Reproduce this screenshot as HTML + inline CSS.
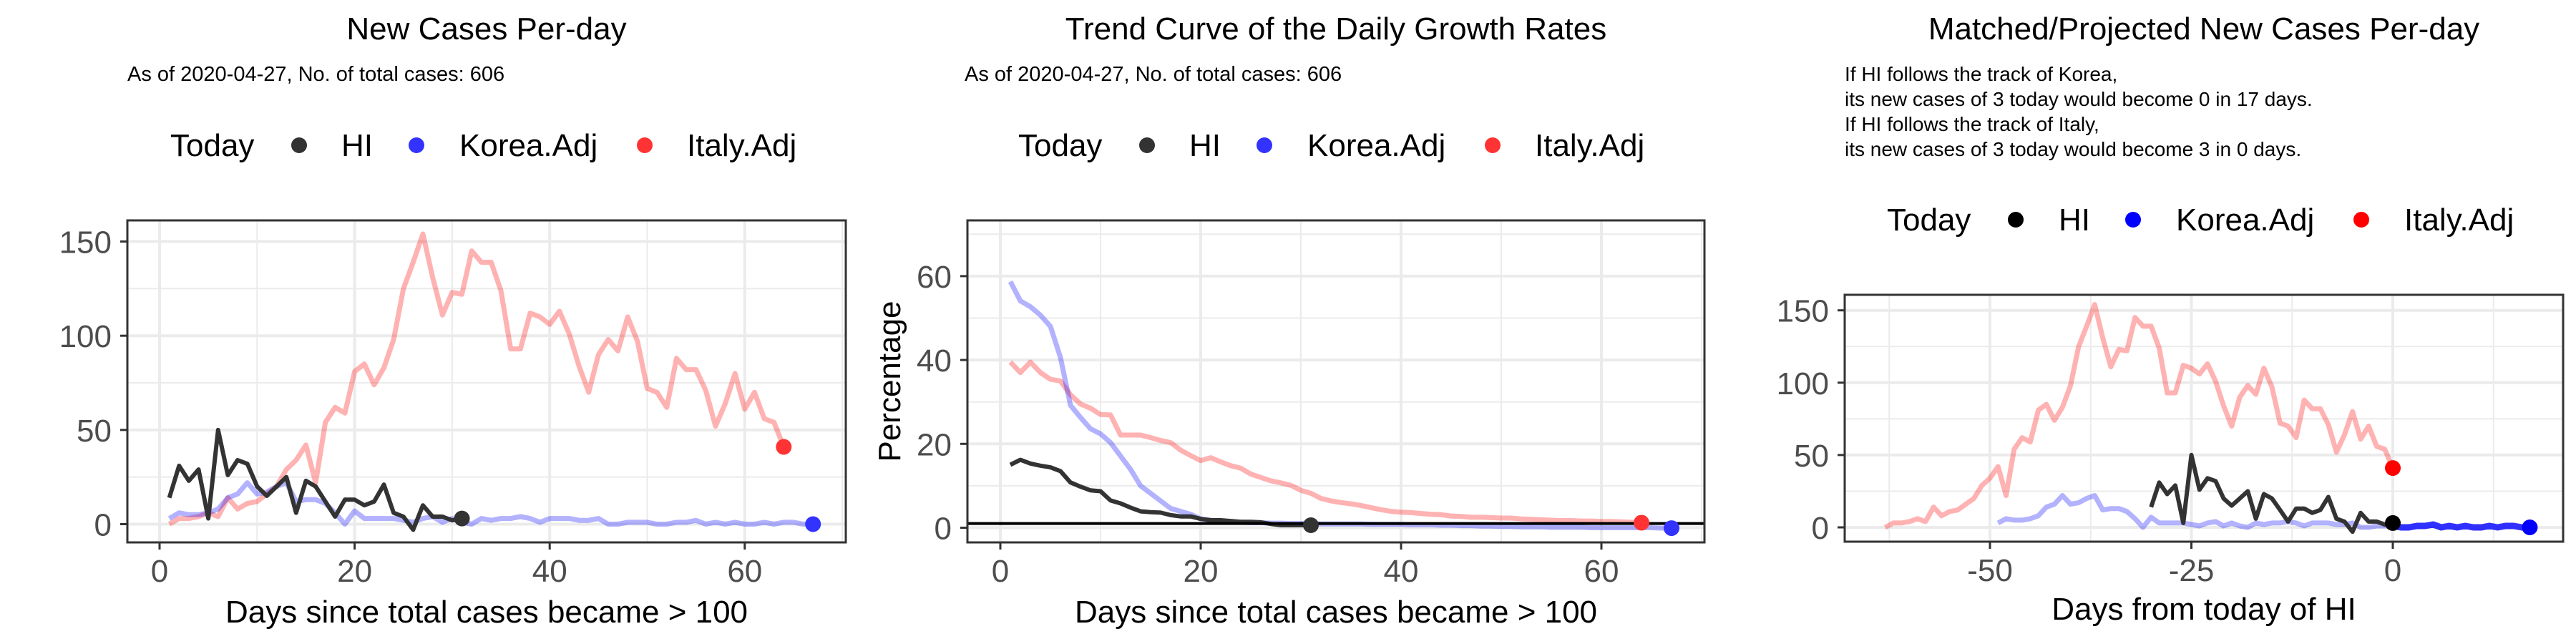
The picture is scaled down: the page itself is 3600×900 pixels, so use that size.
<!DOCTYPE html>
<html><head><meta charset="utf-8"><style>
html,body{margin:0;padding:0;background:#fff;}
svg{display:block;font-family:"Liberation Sans",Arial,sans-serif;}
</style></head><body>
<svg id="chart" width="3600" height="900" viewBox="0 0 3600 900" xmlns="http://www.w3.org/2000/svg"></svg>
<script>
// ---------- data ----------
const hiNew = [14,31,23,29,3,50,26,34,32,20,15,20,25,6,23,20,12,4,13,13,10,12,21,6,4,-3,10,4,4,2,3];
const italyNew = [0,3,3,4,6,4,14,8,11,12,16,20,29,34,42,22,54,62,59,81,85,74,83,98,125,139,154,131,111,123,122,145,139,139,124,93,93,112,110,106,113,101,84,70,90,98,92,110,97,72,70,62,88,82,82,71,52,64,80,61,70,56,54,41];
const koreaNew = [3,6,5,5,6,8,14,16,22,16,17,20,22,12,13,13,11,6,0,7,3,3,3,
 3,2,1,3,4,1,3,1,0,3,2,3,3,4,3,1,3,3,3,2,2,3,0,0,1,1,1,0,0,1,1,2,0,1,0,1,0,0,1,0,1,1,0,0];
const hiRate = [15,16.2,15.3,14.8,14.4,13.5,10.8,9.8,8.9,8.7,6.5,5.8,4.8,3.9,3.7,3.6,3.0,2.7,2.7,2.1,1.8,1.8,1.6,1.4,1.4,1.3,0.9,0.6,0.6,0.6,0.6];
const koreaRate = [58.7,54.1,52.7,50.7,48,40.6,29.2,26.3,23.6,22.4,20.3,17.1,13.9,10,8.2,6.4,4.6,3.9,3.2,2.1,1.8,1.6,1.4,
 1.3,1.2,1.2,1.1,1.1,1.0,1.0,1.0,0.9,0.9,0.9,0.9,0.9,0.8,0.8,0.8,0.8,0.7,0.7,0.7,0.6,0.6,0.5,0.5,0.4,0.4,0.3,0.3,0.2,0.2,0.2,0.1,0.1,0.1,0.1,0,0,0,0,0,0,0,-0.1,-0.1];
const italyRate = [39.5,37,39.5,37,35.4,35,31.7,29.5,28.5,27,26.9,22.1,22.1,22.1,21.5,20.8,20.3,18.5,17.2,16,16.7,15.7,14.8,14.2,12.8,12,11.2,10.7,10.1,8.9,8.2,7,6.4,6,5.7,5.3,4.8,4.3,3.9,3.7,3.6,3.4,3.2,3.1,2.8,2.7,2.5,2.5,2.4,2.3,2.3,2.1,2,1.9,1.8,1.7,1.7,1.6,1.6,1.5,1.5,1.4,1.3,1.2];
const rateRefLine = 1;
const koreaShift = 50;   // Korea day matched to HI today
const italyShift = 64;
const hiShift = 31;
const newTicksX = [0,20,40,60];
const newTicksY = [0,50,100,150];
const rateTicksY = [0,20,40,60];
const matchTicksX = [-50,-25,0];

// ---------- helpers ----------
const NS='http://www.w3.org/2000/svg';
const svg=document.getElementById('chart');
function mk(tag,attrs,parent){const e=document.createElementNS(NS,tag);for(const k in attrs)e.setAttribute(k,attrs[k]);(parent||svg).appendChild(e);return e;}
function txt(s,attrs,parent){const e=mk('text',attrs,parent);e.textContent=s;return e;}

function panel(cfg){
  const g=mk('g',{});
  
  
  const X=d=>cfg.x0+cfg.kx*d, Y=v=>cfg.y0-cfg.ky*v;
  cfg.X=X;cfg.Y=Y;
  // grid
  cfg.minorX.forEach(d=>{const l=mk('line',{x1:X(d),x2:X(d),y1:cfg.top,y2:cfg.bottom,stroke:'#ebebeb','stroke-width':2},g);});
  cfg.minorY.forEach(v=>{const l=mk('line',{x1:cfg.left,x2:cfg.right,y1:Y(v),y2:Y(v),stroke:'#ebebeb','stroke-width':2},g);});
  cfg.ticksX.forEach(d=>{const l=mk('line',{x1:X(d),x2:X(d),y1:cfg.top,y2:cfg.bottom,stroke:'#ebebeb','stroke-width':4},g);});
  cfg.ticksY.forEach(v=>{const l=mk('line',{x1:cfg.left,x2:cfg.right,y1:Y(v),y2:Y(v),stroke:'#ebebeb','stroke-width':4},g);});
  // ticks and labels
  cfg.ticksX.forEach(d=>{
    mk('line',{x1:X(d),x2:X(d),y1:cfg.bottom,y2:cfg.bottom+10,stroke:'#333','stroke-width':3},g);
    const t=txt(String(d),{x:X(d),y:cfg.bottom+55,'text-anchor':'middle','font-size':44,fill:'#4d4d4d'},g);
    
  });
  cfg.ticksY.forEach(v=>{
    mk('line',{x1:cfg.left-10,x2:cfg.left,y1:Y(v),y2:Y(v),stroke:'#333','stroke-width':3},g);
    const t=txt(String(v),{x:cfg.left-22,y:Y(v)+16,'text-anchor':'end','font-size':44,fill:'#4d4d4d'},g);
    
  });
  return g;
}
function line(g,xs,vs,cfg,color,w,name,op){
  const pts=vs.map((v,i)=>cfg.X(xs[i]).toFixed(1)+','+cfg.Y(v).toFixed(1)).join(' ');
  const p=mk('polyline',{points:pts,fill:'none',stroke:color,'stroke-width':w,'stroke-linejoin':'round','stroke-opacity':op===undefined?1:op},g);
  
  
  return p;
}
function dot(g,x,y,color,name){
  const c=mk('ellipse',{cx:x,cy:y,rx:11,ry:11,fill:color},g);
  
  
}
function border(g,cfg){
  const r=mk('rect',{x:cfg.left,y:cfg.top,width:cfg.right-cfg.left,height:cfg.bottom-cfg.top,fill:'none',stroke:'#333','stroke-width':3},g);
  
}
function legend(p,bx,by,cols){
  const g=mk('g',{});
  
  
  const t1=txt('Today',{x:bx[0],y:by,'font-size':44},g);
  const names=['HI','Korea.Adj','Italy.Adj'];
  for(let i=0;i<3;i++){
    dot(g,bx[1+2*i],by-15,cols[i],'legend-key');
    const t=txt(names[i],{x:bx[2+2*i],y:by,'font-size':44},g);
    
  }
}
const seq=(n,off)=>Array.from({length:n},(_,i)=>i+1-(off||0));

// ---------- panel 1 ----------
const c1={name:'new-cases-panel',left:178,right:1182,top:308,bottom:758,x0:223,kx:13.63,y0:732.5,ky:2.633,
  ticksX:newTicksX,ticksY:newTicksY,minorX:[10,30,50,70],minorY:[25,75,125]};
const g1=panel(c1);
line(g1,seq(italyNew.length),italyNew,c1,'#ff0000',7,'italy-line',0.3);
line(g1,seq(koreaNew.length),koreaNew,c1,'#0000ff',7,'korea-line',0.3);
line(g1,seq(hiNew.length),hiNew,c1,'#333333',6,'hi-line');
dot(g1,c1.X(hiNew.length),c1.Y(hiNew[hiNew.length-1]),'#333333','hi-today-point');
dot(g1,c1.X(koreaNew.length),c1.Y(koreaNew[koreaNew.length-1]),'#3333ff','korea-today-point');
dot(g1,c1.X(italyNew.length),c1.Y(italyNew[italyNew.length-1]),'#ff3333','italy-today-point');
border(g1,c1);
let t;
t=txt('New Cases Per-day',{x:680,y:55,'text-anchor':'middle','font-size':44});
t=txt('As of 2020-04-27, No. of total cases: 606',{x:178,y:113,'font-size':29});
t=txt('Days since total cases became > 100',{x:680,y:870,'text-anchor':'middle','font-size':44});
legend(1,[238,418,477,582,642,901,960],218,['#333333','#3333ff','#ff3333']);

// ---------- panel 2 ----------
const c2={name:'growth-rate-panel',left:1352,right:2382,top:308,bottom:758,x0:1398,kx:14.0,y0:737.5,ky:5.86,
  ticksX:newTicksX,ticksY:rateTicksY,minorX:[10,30,50,70],minorY:[10,30,50,70]};
const g2=panel(c2);
line(g2,seq(italyRate.length),italyRate,c2,'#ff0000',7,'italy-rate-line',0.3);
line(g2,seq(koreaRate.length),koreaRate,c2,'#0000ff',7,'korea-rate-line',0.3);
line(g2,seq(hiRate.length),hiRate,c2,'#333333',6,'hi-rate-line');
const ref=mk('line',{x1:c2.left,x2:c2.right,y1:c2.Y(rateRefLine),y2:c2.Y(rateRefLine),stroke:'#000','stroke-width':4},g2);

dot(g2,c2.X(hiRate.length),c2.Y(hiRate[hiRate.length-1]),'#333333','hi-today-point');
dot(g2,c2.X(koreaRate.length),c2.Y(koreaRate[koreaRate.length-1]),'#3333ff','korea-today-point');
dot(g2,c2.X(italyRate.length),c2.Y(italyRate[italyRate.length-1]),'#ff3333','italy-today-point');
border(g2,c2);
t=txt('Trend Curve of the Daily Growth Rates',{x:1867,y:55,'text-anchor':'middle','font-size':44});
t=txt('As of 2020-04-27, No. of total cases: 606',{x:1348,y:113,'font-size':29});
t=txt('Days since total cases became > 100',{x:1867,y:870,'text-anchor':'middle','font-size':44});
t=txt('Percentage',{x:0,y:0,'text-anchor':'middle','font-size':44,transform:'translate(1258,533) rotate(-90)'});
legend(2,[1423,1603,1662,1767,1827,2086,2145],218,['#333333','#3333ff','#ff3333']);

// ---------- panel 3 ----------
const c3={name:'matched-projection-panel',left:2578,right:3582,top:412,bottom:757,x0:3344,kx:11.26,y0:737,ky:2.022,
  ticksX:matchTicksX,ticksY:newTicksY,minorX:[-62.5,-37.5,-12.5,12.5],minorY:[25,75,125]};
const g3=panel(c3);
line(g3,seq(italyNew.length,italyShift),italyNew,c3,'#ff0000',7,'italy-matched-line',0.3);
const kPast=koreaNew.slice(0,koreaShift), kFut=koreaNew.slice(koreaShift-1);
line(g3,seq(kPast.length,koreaShift),kPast,c3,'#0000ff',7,'korea-matched-line',0.3);
line(g3,seq(hiNew.length,hiShift),hiNew,c3,'#333333',6,'hi-line');
line(g3,seq(kFut.length,1),kFut,c3,'#1a1aff',9,'korea-projection-line',0.9);
dot(g3,c3.X(0),c3.Y(hiNew[hiNew.length-1]),'#000000','hi-today-point');
dot(g3,c3.X(koreaNew.length-koreaShift),c3.Y(koreaNew[koreaNew.length-1]),'#0000ff','korea-projected-point');
dot(g3,c3.X(0),c3.Y(italyNew[italyNew.length-1]),'#ff0000','italy-today-point');
border(g3,c3);
t=txt('Matched/Projected New Cases Per-day',{x:3080,y:55,'text-anchor':'middle','font-size':44});
const notes=['If HI follows the track of Korea,','its new cases of 3 today would become 0 in 17 days.','If HI follows the track of Italy,','its new cases of 3 today would become 3 in 0 days.'];
notes.forEach((s,i)=>{const n=txt(s,{x:2578,y:113+35*i,'font-size':28});});
t=txt('Days from today of HI',{x:3080,y:866,'text-anchor':'middle','font-size':44});
legend(3,[2637,2817,2877,2981,3041,3300,3360],322,['#000000','#0000ff','#ff0000']);
</script>
</body></html>
